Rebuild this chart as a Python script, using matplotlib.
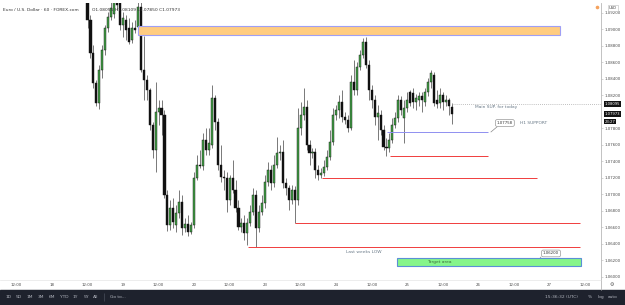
import numpy as np
import matplotlib.pyplot as plt
from matplotlib.patches import Rectangle
from matplotlib.transforms import blended_transform_factory

symbol = "Euro / U.S. Dollar · 60 · FOREX.com"
last_ohlc = "O1.08055 H1.08109 L1.07850 C1.07973"

# hourly candles, first one at hour 12 of day 18
first_hour = 12
opens = [1.09413, 1.09110, 1.08711, 1.08348, 1.08106, 1.08505, 1.08747, 1.09013, 1.09146, 1.09183,
         1.09388, 1.09315, 1.09049, 1.09110, 1.09013, 1.08868, 1.09013, 1.09025, 1.09267, 1.08505,
         1.08384, 1.08263, 1.07839, 1.07537, 1.07997, 1.08045, 1.07960, 1.06992, 1.06630, 1.06835,
         1.06630, 1.06775, 1.06908, 1.06593, 1.06642, 1.06544, 1.06630, 1.07198, 1.07355, 1.07343,
         1.07658, 1.07537, 1.07597, 1.08166, 1.07876, 1.07355, 1.07210, 1.07198, 1.06932, 1.07198,
         1.07053, 1.06835, 1.06605, 1.06654, 1.06532, 1.06654, 1.06787, 1.06992, 1.06593, 1.06787,
         1.06896, 1.07150, 1.07295, 1.07138, 1.07355, 1.07501, 1.07513, 1.07138, 1.07077, 1.06932,
         1.07053, 1.06932, 1.07803, 1.07960, 1.08057, 1.07597, 1.07501, 1.07513, 1.07295, 1.07234,
         1.07259, 1.07331, 1.07452, 1.07634, 1.07960, 1.08021, 1.08118, 1.07936, 1.07900, 1.07803,
         1.08360, 1.08263, 1.08541, 1.08686, 1.08844, 1.08565, 1.08263, 1.08142, 1.07936, 1.07960,
         1.07779, 1.07573, 1.07561, 1.07658, 1.07839, 1.07924, 1.08142, 1.07924, 1.08045, 1.08239,
         1.08227, 1.08118, 1.08142, 1.08190, 1.08118, 1.08239, 1.08360, 1.08444, 1.08142, 1.08106,
         1.08202, 1.08118, 1.08142, 1.08055]
highs = [1.09473, 1.09170, 1.08807, 1.08384, 1.08565, 1.08807, 1.09049, 1.09207, 1.09328, 1.09449,
         1.09449, 1.09376, 1.09207, 1.09170, 1.09134, 1.09086, 1.09110, 1.09328, 1.09352, 1.08916,
         1.08444, 1.08287, 1.07876, 1.08360, 1.08142, 1.08142, 1.08021, 1.07053, 1.06932, 1.06956,
         1.06871, 1.07053, 1.06992, 1.06714, 1.06750, 1.06666, 1.07271, 1.07476, 1.07537, 1.07743,
         1.07803, 1.07803, 1.08323, 1.08202, 1.07924, 1.07597, 1.07295, 1.07271, 1.07234, 1.07416,
         1.07174, 1.06932, 1.06714, 1.06750, 1.06714, 1.06871, 1.07077, 1.07053, 1.06871, 1.06992,
         1.07234, 1.07392, 1.07355, 1.07476, 1.07694, 1.07597, 1.07658, 1.07198, 1.07113, 1.07113,
         1.07101, 1.08045, 1.08118, 1.08287, 1.08142, 1.07658, 1.07561, 1.07561, 1.07355, 1.07319,
         1.07416, 1.07537, 1.07779, 1.08045, 1.08081, 1.08202, 1.08263, 1.07997, 1.07960, 1.08444,
         1.08626, 1.08602, 1.08747, 1.08892, 1.08904, 1.08626, 1.08323, 1.08202, 1.08081, 1.08021,
         1.07839, 1.07682, 1.07743, 1.07924, 1.07997, 1.08202, 1.08190, 1.08142, 1.08239, 1.08263,
         1.08287, 1.08215, 1.08239, 1.08239, 1.08287, 1.08408, 1.08505, 1.08481, 1.08263, 1.08287,
         1.08239, 1.08202, 1.08166, 1.08109]
lows = [1.09013, 1.08650, 1.08287, 1.08069, 1.08033, 1.08408, 1.08686, 1.08965, 1.09110, 1.09134,
        1.09231, 1.08989, 1.08904, 1.08868, 1.08820, 1.08832, 1.08953, 1.08989, 1.08481, 1.08142,
        1.08142, 1.07779, 1.07440, 1.07271, 1.07839, 1.07718, 1.06956, 1.06557, 1.06569, 1.06593,
        1.06544, 1.06714, 1.06508, 1.06544, 1.06496, 1.06520, 1.06593, 1.07174, 1.07319, 1.07295,
        1.07476, 1.07476, 1.07561, 1.07779, 1.07295, 1.07150, 1.07053, 1.06787, 1.06871, 1.07017,
        1.06787, 1.06569, 1.06544, 1.06448, 1.06387, 1.06618, 1.06750, 1.06363, 1.06544, 1.06750,
        1.06835, 1.07101, 1.07053, 1.07089, 1.07319, 1.07416, 1.07077, 1.06992, 1.06811, 1.06884,
        1.06654, 1.06871, 1.07718, 1.07900, 1.07537, 1.07355, 1.07440, 1.07198, 1.07174, 1.07198,
        1.07222, 1.07295, 1.07416, 1.07597, 1.07900, 1.07924, 1.07876, 1.07852, 1.07755, 1.07779,
        1.08202, 1.08202, 1.08505, 1.08650, 1.08529, 1.08142, 1.08045, 1.07839, 1.07658, 1.07718,
        1.07537, 1.07464, 1.07513, 1.07622, 1.07803, 1.07876, 1.07960, 1.07622, 1.07997, 1.08069,
        1.08045, 1.08021, 1.08069, 1.07997, 1.08069, 1.08190, 1.08287, 1.08069, 1.08045, 1.08045,
        1.08021, 1.08069, 1.07960, 1.07850]
closes = [1.09110, 1.08711, 1.08348, 1.08106, 1.08505, 1.08747, 1.09013, 1.09146, 1.09255, 1.09388,
          1.09291, 1.09049, 1.09134, 1.08989, 1.08844, 1.09013, 1.08989, 1.09267, 1.08505, 1.08384,
          1.08263, 1.07839, 1.07537, 1.07997, 1.08045, 1.07960, 1.06992, 1.06630, 1.06835, 1.06666,
          1.06775, 1.06908, 1.06593, 1.06642, 1.06544, 1.06630, 1.07198, 1.07355, 1.07343, 1.07658,
          1.07537, 1.07622, 1.08166, 1.07876, 1.07355, 1.07210, 1.07198, 1.06932, 1.07198, 1.07053,
          1.06835, 1.06605, 1.06654, 1.06532, 1.06654, 1.06787, 1.06992, 1.06593, 1.06787, 1.06896,
          1.07150, 1.07295, 1.07138, 1.07355, 1.07501, 1.07513, 1.07138, 1.07077, 1.06932, 1.07053,
          1.06932, 1.07803, 1.07960, 1.08057, 1.07597, 1.07501, 1.07513, 1.07295, 1.07234, 1.07259,
          1.07331, 1.07452, 1.07634, 1.07960, 1.08021, 1.08118, 1.07936, 1.07900, 1.07803, 1.08360,
          1.08263, 1.08541, 1.08686, 1.08844, 1.08565, 1.08263, 1.08142, 1.07936, 1.07985, 1.07779,
          1.07573, 1.07561, 1.07658, 1.07839, 1.07924, 1.08142, 1.08021, 1.08045, 1.08142, 1.08106,
          1.08118, 1.08166, 1.08190, 1.08142, 1.08239, 1.08360, 1.08469, 1.08106, 1.08094, 1.08202,
          1.08118, 1.08142, 1.08069, 1.07973]

tick_hours = [-12, 0, 12, 24, 36, 48, 60, 72, 84, 96, 108, 120, 132, 144, 156, 168, 180]
tick_labels = ["12:00", "18", "12:00", "19", "12:00", "20", "12:00", "23", "12:00",
               "24", "12:00", "25", "12:00", "26", "12:00", "27", "12:00"]
# 1.08000 is hidden behind the last-price label, as on the platform
price_ticks = [1.060, 1.062, 1.064, 1.066, 1.068, 1.070, 1.072, 1.074, 1.076,
               1.078, 1.082, 1.084, 1.086, 1.088, 1.090, 1.092]

supply_zone = (1.08928, 1.09037)
target_zone = (1.06133, 1.06230)
main_sup = 1.08095
h1_support = 1.07758
red_levels = [1.07464, 1.07198, 1.06654, 1.06363]
last_price = 1.07973
target_price = 1.06200
countdown = "23:27"
range_buttons = ["1D", "5D", "1M", "3M", "6M", "YTD", "1Y", "5Y", "All"]

UP = '#43a047'
DOWN = '#111111'
TXT = '#4a4a4a'
FS = 3.2

fig = plt.figure(figsize=(6.25, 3.05), dpi=100)
fig.patch.set_facecolor('white')
ax = fig.add_axes([0, 25 / 305, 601 / 625, 277 / 305])
ax.set_xlim(-17.57, 185.47)
ax.set_ylim(1.059637, 1.09315)

hours = np.arange(first_hour, first_hour + len(opens))
for h, o, hi, lo, c in zip(hours, opens, highs, lows, closes):
    col = UP if c >= o else DOWN
    ax.vlines(h, lo, hi, color='#555555', lw=0.55, zorder=2)
    body = max(abs(c - o), 0.00004)
    ax.bar(h, body, bottom=min(o, c), width=0.7, color=col,
           edgecolor='#111111', linewidth=0.3, zorder=3)

# drawings
ax.add_patch(Rectangle((29.1, supply_zone[0]), 171.6 - 29.1, supply_zone[1] - supply_zone[0],
                       facecolor='#ffcc80', edgecolor='#9f9ff5', lw=0.8, zorder=4))
ax.add_patch(Rectangle((116.6, target_zone[0]), 178.7 - 116.6, target_zone[1] - target_zone[0],
                       facecolor='#86f58a', edgecolor='#5b8fd6', lw=0.8, zorder=4))
ax.text(126.7, 1.06181, "Target area", fontsize=FS, color='#3a6a3a', va='center', zorder=5)

ax.hlines(main_sup, 135.1, 185.47, color='#aaaaaa', lw=0.6, linestyles=(0, (1, 1.5)), zorder=4)
ax.text(142.9, 1.08057, "Main SUP. for today", fontsize=FS, color='#6a7a88', va='center')

ax.hlines(h1_support, 113.2, 147.3, color='#8f8ff0', lw=0.7, zorder=4)
ax.plot([148.3, 150.3], [1.07755, 1.07815], color='#888888', lw=0.5)
ax.text(153.0, 1.07863, f"{h1_support:.5f}", fontsize=2.8, color='#333333', ha='center', va='center',
        bbox=dict(boxstyle='round,pad=0.35,rounding_size=0.4', fc='white', ec='#999999', lw=0.5))
ax.text(158.1, 1.07863, "H1 SUPPORT", fontsize=FS, color='#6a7a88', va='center')

red_spans = [(114.2, 147.3), (91.2, 163.9), (82.1, 178.4), (66.2, 178.4)]
for lvl, (a, b) in zip(red_levels, red_spans):
    ax.hlines(lvl, a, b, color='#f03c3c', lw=0.7, zorder=4)
ax.text(105.4, 1.06303, "Last weeks LOW", fontsize=FS, color='#6a7a88', ha='center', va='center')

ax.plot([163.5, 165.2], [1.06170, 1.06242], color='#888888', lw=0.5)
ax.text(168.6, 1.06285, f"{target_price:.5f}", fontsize=2.8, color='#333333', ha='center', va='center',
        bbox=dict(boxstyle='round,pad=0.35,rounding_size=0.4', fc='white', ec='#999999', lw=0.5))

# axes styling
for s in ['top', 'left']:
    ax.spines[s].set_visible(False)
ax.spines['right'].set_color('#b8b8b8')
ax.spines['right'].set_linewidth(0.6)
ax.spines['bottom'].set_color('#e6e6e6')
ax.spines['bottom'].set_linewidth(0.5)
ax.yaxis.tick_right()
ax.set_yticks(price_ticks)
ax.set_yticklabels([f"{p:.5f}" for p in price_ticks])
ax.tick_params(axis='y', labelsize=2.8, colors='#b8b8b8', labelcolor=TXT, length=1.2, width=0.4, pad=1.5)
ax.set_xticks(tick_hours)
ax.set_xticklabels(tick_labels)
ax.tick_params(axis='x', labelsize=2.8, labelcolor=TXT, length=0, pad=2.5)

# price labels on the right scale
tr = blended_transform_factory(ax.transAxes, ax.transData)
box = dict(boxstyle='square,pad=0.2', fc='#131313', ec='none')
ax.text(1.006, main_sup, f"{main_sup:.5f}", transform=tr, fontsize=2.7, color='white',
        va='center', bbox=box, clip_on=False)
ax.text(1.006, last_price, f"{last_price:.5f}", transform=tr, fontsize=2.7, color='white',
        va='center', bbox=box, clip_on=False)
ax.text(1.006, last_price - 0.00092, countdown, transform=tr, fontsize=2.7, color='white',
        va='center', bbox=box, clip_on=False)

# overlay in pixel coordinates
ov = fig.add_axes([0, 0, 1, 1], facecolor='none')
ov.set_xlim(0, 625)
ov.set_ylim(305, 0)
ov.axis('off')
ov.text(3, 10, symbol, fontsize=FS, color='#333333', va='center')
ov.text(92, 10, last_ohlc, fontsize=FS, color='#333333', va='center')
ov.add_patch(Rectangle((0, 290), 625, 15, color='#1e222d'))
ov.vlines(601, 280, 290, color='#b8b8b8', lw=0.6)
ov.text(612, 285, "⚙", fontsize=3.5, color='#555555', ha='center', va='center')
ov.plot(597, 7, 'o', ms=2.6, color='#f5a25d', mec='none')
ov.text(613, 8, "USD", fontsize=2.6, color='#333333', ha='center', va='center',
        bbox=dict(boxstyle='square,pad=0.3', fc='white', ec='#bbbbbb', lw=0.4))

bx = [9, 19, 30, 41, 52, 64, 75, 86, 96]
for x, t in zip(bx, range_buttons):
    ov.text(x, 297, t, fontsize=FS, color='#b2b5be', ha='center', va='center')
ov.vlines(104, 293, 301, color='#4a4f5c', lw=0.5)
ov.text(110, 297, "Go to...", fontsize=FS, color='#b2b5be', va='center')
ov.text(578, 297, "15:36:32 (UTC)", fontsize=FS, color='#b2b5be', ha='right', va='center')
ov.text(590, 297, "%", fontsize=FS, color='#b2b5be', ha='center', va='center')
ov.text(601, 297, "log", fontsize=FS, color='#b2b5be', ha='center', va='center')
ov.text(613, 297, "auto", fontsize=FS, color='#b2b5be', ha='center', va='center')

fig.savefig('out.png', dpi=100)
